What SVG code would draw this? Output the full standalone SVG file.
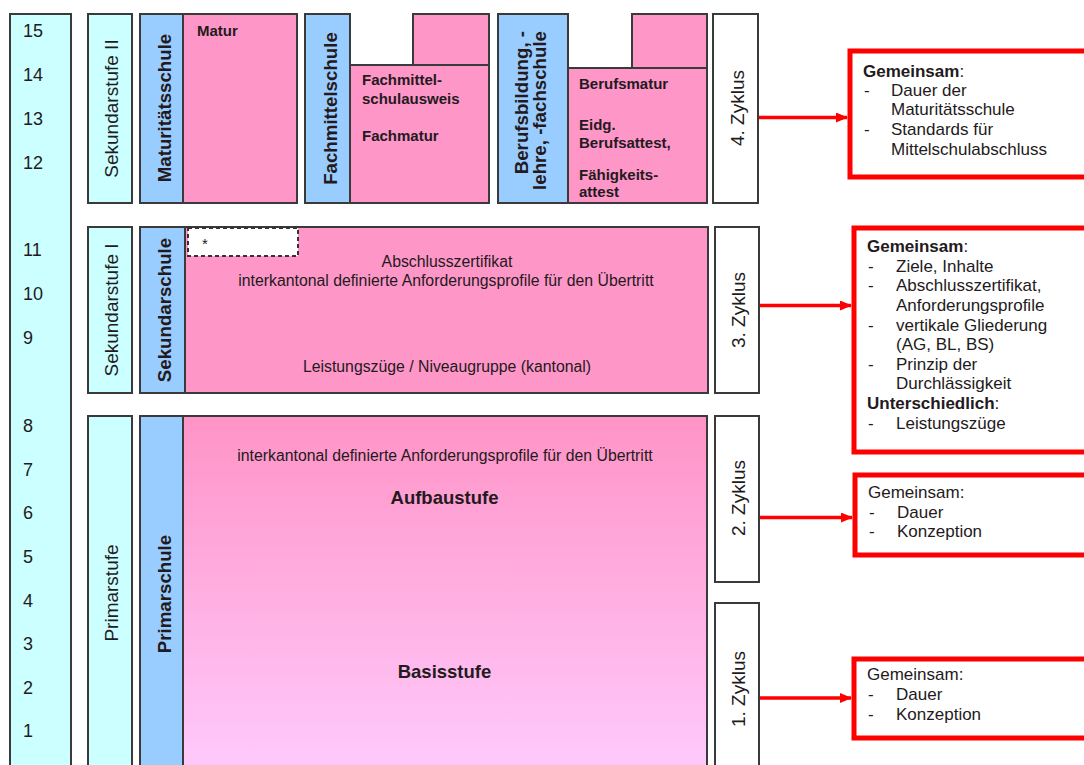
<svg xmlns="http://www.w3.org/2000/svg" width="1084" height="765" viewBox="0 0 1084 765">
<defs>
<style>
.b{stroke:#3a3a3a;stroke-width:2}
.cy{fill:#ccffff}
.bl{fill:#99ccff}
.pk{fill:#ff96c8}
.wh{fill:#ffffff}
text{font-family:"Liberation Sans",Arial,sans-serif;fill:#231a20}
.yr{font-size:18px}
.rn{font-size:19px;text-anchor:middle}
.rb{font-size:18.7px;font-weight:bold;text-anchor:middle}
.pb{font-size:15px;font-weight:bold}
.pn{font-size:15.8px;text-anchor:middle}
.big{font-size:18.5px;font-weight:bold;text-anchor:middle}
.rt{font-size:17px}
.red{fill:#ffffff;stroke:#ff0000;stroke-width:5}
.ar{stroke:#ff0000;stroke-width:3.5;fill:none}
</style>
<linearGradient id="pg" x1="0" y1="0" x2="0" y2="1">
<stop offset="0" stop-color="#ff93c6"/>
<stop offset="1" stop-color="#ffccff"/>
</linearGradient>
<marker id="ah" markerWidth="12" markerHeight="10" refX="11" refY="5" orient="auto" markerUnits="userSpaceOnUse">
<path d="M0,0 L12,5 L0,10 Z" fill="#ff0000"/>
</marker>
</defs>
<rect width="1084" height="765" fill="#ffffff"/>

<g id="years">
<rect class="b cy" x="10" y="14" width="61" height="770"/>
<text class="yr" x="23" y="37">15</text>
<text class="yr" x="23" y="81">14</text>
<text class="yr" x="23" y="125">13</text>
<text class="yr" x="23" y="169">12</text>
<text class="yr" x="23" y="256">11</text>
<text class="yr" x="23" y="300">10</text>
<text class="yr" x="23" y="344">9</text>
<text class="yr" x="23" y="432">8</text>
<text class="yr" x="23" y="476">7</text>
<text class="yr" x="23" y="519">6</text>
<text class="yr" x="23" y="563">5</text>
<text class="yr" x="23" y="607">4</text>
<text class="yr" x="23" y="650">3</text>
<text class="yr" x="23" y="694">2</text>
<text class="yr" x="23" y="737">1</text>
</g>

<g id="sek2">
<rect class="b cy" x="88" y="14" width="44" height="189"/>
<text class="rn" x="118" y="108.5" transform="rotate(-90 118 108.5)">Sekundarstufe II</text>
</g>

<g id="maturitaetsschule">
<rect class="b bl" x="140" y="14" width="43" height="189"/>
<rect class="b pk" x="183" y="14" width="114" height="189"/>
<text class="rb" x="171" y="108" transform="rotate(-90 171 108)">Maturitätsschule</text>
<text class="pb" x="197" y="36">Matur</text>
</g>

<g id="fachmittelschule">
<rect class="b pk" x="413" y="14" width="76" height="51"/>
<rect class="b bl" x="305" y="14" width="45" height="189"/>
<rect class="b pk" x="350" y="65" width="139" height="138"/>
<text class="rb" x="337" y="108.5" transform="rotate(-90 337 108.5)">Fachmittelschule</text>
<text class="pb" x="362" y="85">Fachmittel-</text>
<text class="pb" x="362" y="104">schulausweis</text>
<text class="pb" x="362" y="141">Fachmatur</text>
</g>

<g id="berufsbildung">
<rect class="b pk" x="632" y="14" width="75" height="54"/>
<rect class="b bl" x="498" y="14" width="70" height="189"/>
<rect class="b pk" x="568" y="68" width="139" height="135"/>
<text class="rb" style="text-anchor:end" x="528" y="31" transform="rotate(-90 528 31)">Berufsbildung, -</text>
<text class="rb" style="text-anchor:end" x="546" y="31" transform="rotate(-90 546 31)">lehre, -fachschule</text>
<text class="pb" x="579" y="89">Berufsmatur</text>
<text class="pb" x="579" y="130">Eidg.</text>
<text class="pb" x="579" y="148">Berufsattest,</text>
<text class="pb" x="579" y="180">Fähigkeits-</text>
<text class="pb" x="579" y="197">attest</text>
</g>

<g id="zyklus4">
<rect class="b wh" x="713" y="14" width="45" height="189"/>
<text class="rn" x="744" y="108" transform="rotate(-90 744 108)">4. Zyklus</text>
</g>

<g id="sek1">
<rect class="b cy" x="88" y="227" width="44" height="166"/>
<text class="rn" x="118" y="310" transform="rotate(-90 118 310)">Sekundarstufe I</text>
</g>

<g id="sekundarschule">
<rect class="b bl" x="140" y="227" width="45" height="166"/>
<rect class="b pk" x="185" y="227" width="523" height="166"/>
<rect x="188" y="228" width="110" height="28" fill="#ffffff" stroke="#333" stroke-width="2" stroke-dasharray="4 3"/>
<text x="202" y="249" style="font-size:15px">*</text>
<text class="rb" x="171" y="310" transform="rotate(-90 171 310)">Sekundarschule</text>
<text class="pn" x="447" y="267">Abschlusszertifikat</text>
<text class="pn" x="446" y="286">interkantonal definierte Anforderungsprofile für den Übertritt</text>
<text class="pn" x="447" y="372">Leistungszüge / Niveaugruppe (kantonal)</text>
</g>

<g id="zyklus3">
<rect class="b wh" x="715" y="227" width="44" height="166"/>
<text class="rn" x="745" y="310" transform="rotate(-90 745 310)">3. Zyklus</text>
</g>

<g id="primarstufe">
<rect class="b cy" x="88" y="416" width="44" height="370"/>
<text class="rn" x="118" y="593" transform="rotate(-90 118 593)">Primarstufe</text>
</g>

<g id="primarschule">
<rect class="b bl" x="140" y="416" width="43" height="370"/>
<rect class="b" fill="url(#pg)" x="183" y="416" width="524" height="370"/>
<text class="rb" x="171" y="594" transform="rotate(-90 171 594)">Primarschule</text>
<text class="pn" x="445" y="461">interkantonal definierte Anforderungsprofile für den Übertritt</text>
<text class="big" x="444.5" y="504">Aufbaustufe</text>
<text class="big" x="444.5" y="678">Basisstufe</text>
</g>

<g id="zyklus2">
<rect class="b wh" x="715" y="416" width="44" height="166"/>
<text class="rn" x="745" y="498" transform="rotate(-90 745 498)">2. Zyklus</text>
</g>

<g id="zyklus1">
<rect class="b wh" x="715" y="603" width="44" height="200"/>
<text class="rn" x="745" y="689" transform="rotate(-90 745 689)">1. Zyklus</text>
</g>

<g id="box4">
<rect class="red" x="850" y="51" width="260" height="126"/>
<text class="rt" x="863" y="77"><tspan font-weight="bold">Gemeinsam</tspan>:</text>
<text class="rt" x="864" y="96">-</text><text class="rt" x="891" y="96">Dauer der</text>
<text class="rt" x="891" y="115">Maturitätsschule</text>
<text class="rt" x="864" y="135">-</text><text class="rt" x="891" y="135">Standards für</text>
<text class="rt" x="891" y="155">Mittelschulabschluss</text>
</g>

<g id="box3">
<rect class="red" x="854" y="228" width="260" height="224"/>
<text class="rt" x="867" y="252"><tspan font-weight="bold">Gemeinsam</tspan>:</text>
<text class="rt" x="868" y="271.6">-</text><text class="rt" x="896" y="271.6">Ziele, Inhalte</text>
<text class="rt" x="868" y="291.3">-</text><text class="rt" x="896" y="291.3">Abschlusszertifikat,</text>
<text class="rt" x="896" y="310.9">Anforderungsprofile</text>
<text class="rt" x="868" y="330.5">-</text><text class="rt" x="896" y="330.5">vertikale Gliederung</text>
<text class="rt" x="896" y="350.2">(AG, BL, BS)</text>
<text class="rt" x="868" y="369.8">-</text><text class="rt" x="896" y="369.8">Prinzip der</text>
<text class="rt" x="896" y="389.4">Durchlässigkeit</text>
<text class="rt" x="867" y="409"><tspan font-weight="bold">Unterschiedlich</tspan>:</text>
<text class="rt" x="868" y="428.7">-</text><text class="rt" x="896" y="428.7">Leistungszüge</text>
</g>

<g id="box2">
<rect class="red" x="855" y="475" width="260" height="80"/>
<text class="rt" x="868" y="498">Gemeinsam:</text>
<text class="rt" x="869" y="518">-</text><text class="rt" x="897" y="518">Dauer</text>
<text class="rt" x="869" y="537">-</text><text class="rt" x="897" y="537">Konzeption</text>
</g>

<g id="box1">
<rect class="red" x="854" y="659" width="260" height="79"/>
<text class="rt" x="867" y="680">Gemeinsam:</text>
<text class="rt" x="868" y="700">-</text><text class="rt" x="896" y="700">Dauer</text>
<text class="rt" x="868" y="720">-</text><text class="rt" x="896" y="720">Konzeption</text>
</g>

<g id="connectors">
<line class="ar" x1="759" y1="117.5" x2="847" y2="117.5" marker-end="url(#ah)"/>
<line class="ar" x1="760" y1="305.5" x2="851" y2="305.5" marker-end="url(#ah)"/>
<line class="ar" x1="760" y1="517.5" x2="852" y2="517.5" marker-end="url(#ah)"/>
<line class="ar" x1="760" y1="698" x2="851" y2="698" marker-end="url(#ah)"/>
</g>
</svg>
